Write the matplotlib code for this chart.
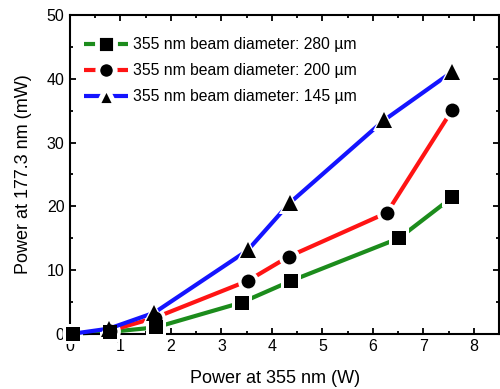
import matplotlib
matplotlib.use("Agg")
import matplotlib.pyplot as plt
from matplotlib.ticker import MultipleLocator
from matplotlib.lines import Line2D

plt.rcParams['font.family'] = ['Liberation Sans', 'DejaVu Sans']

labels = ["355 nm beam diameter: 280 µm",
          "355 nm beam diameter: 200 µm",
          "355 nm beam diameter: 145 µm"]
colors = ["#1c8c1c", "#ff1414", "#1414ff"]
markers = ["s", "o", "^"]

x_280 = [0.05, 0.8, 1.7, 3.4, 4.38, 6.52, 7.57]
y_280 = [0.0, 0.3, 1.0, 4.9, 8.3, 15.0, 21.4]
x_200 = [0.8, 1.68, 3.52, 4.33, 6.28, 7.57]
y_200 = [0.5, 2.5, 8.3, 12.1, 19.0, 35.1]
x_145 = [0.05, 0.77, 1.67, 3.52, 4.35, 6.22, 7.57]
y_145 = [0.0, 0.8, 3.3, 13.1, 20.5, 33.5, 41.1]

xs = [x_280, x_200, x_145]
ys = [y_280, y_200, y_145]
msizes = [10.0, 10.0, 11.0]   # black marker sizes (pt)
halo = 5.0                    # white gap around markers (pt)
mevery = [None, None, slice(1, None)]

fig = plt.figure(figsize=(5.0, 3.89), dpi=100)
ax = fig.add_axes([0.14, 0.142, 0.858, 0.819])

handles = []
for i in range(3):
    ax.plot(xs[i], ys[i], color=colors[i], lw=3.0, zorder=2 + 2 * i,
            clip_on=False, solid_capstyle='butt')
    ax.plot(xs[i], ys[i], ls='none', marker=markers[i],
            ms=msizes[i] + halo, mfc='white', mec='white', mew=0,
            markevery=mevery[i], zorder=3 + 2 * i, clip_on=False)
    ax.plot(xs[i], ys[i], ls='none', marker=markers[i],
            ms=msizes[i], mfc='black', mec='black', mew=0,
            markevery=mevery[i], zorder=10, clip_on=False)
    handles.append(Line2D([], [], color=colors[i], lw=3.0, marker=markers[i],
                          ms=msizes[i] - 1.0 + 3.5, mfc='black', mec='white',
                          mew=3.5, solid_capstyle='butt'))

ax.set_xlim(0, 8.5)
ax.set_ylim(0, 50)
ax.xaxis.set_major_locator(MultipleLocator(1))
ax.xaxis.set_minor_locator(MultipleLocator(0.5))
ax.yaxis.set_major_locator(MultipleLocator(10))
ax.yaxis.set_minor_locator(MultipleLocator(5))
ax.tick_params(which='both', direction='in', top=True, right=True,
               width=1.3, labelsize=11.5, pad=4)
ax.tick_params(which='major', length=4.5)
ax.tick_params(which='minor', length=2.5)
for s in ax.spines.values():
    s.set_linewidth(1.5)

ax.set_xlabel("Power at 355 nm (W)", fontsize=13)
ax.set_ylabel("Power at 177.3 nm (mW)", fontsize=13)
ax.xaxis.set_label_coords(0.478, -0.115)
ax.yaxis.set_label_coords(-0.088, 0.5)

leg = ax.legend(handles, labels, loc='upper left', frameon=False, fontsize=11.3,
                handlelength=2.8, handletextpad=0.3, labelspacing=0.7,
                bbox_to_anchor=(0.0, 0.975))

fig.savefig("out.png", dpi=100)
